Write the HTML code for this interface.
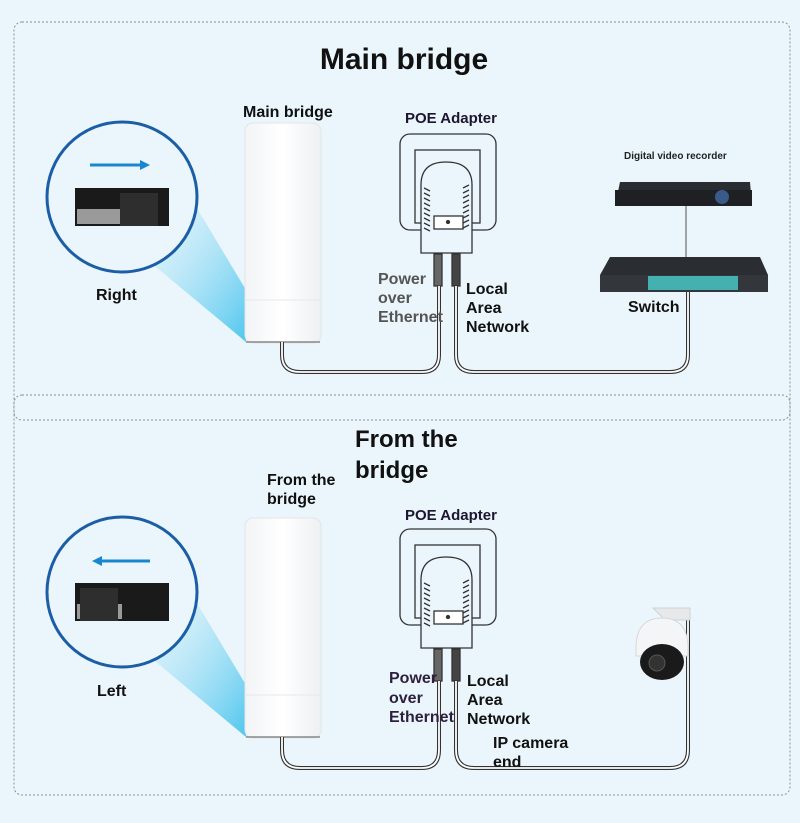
<!DOCTYPE html>
<html><head><meta charset="utf-8"><style>
html,body{margin:0;padding:0;background:#eaf6fc;}
svg{display:block;font-family:"Liberation Sans","DejaVu Sans",sans-serif;font-weight:bold;}
</style></head><body>
<svg width="800" height="823" viewBox="0 0 800 823" xmlns="http://www.w3.org/2000/svg">
<defs>
<linearGradient id="cone" x1="0" y1="0" x2="1" y2="1">
<stop offset="0" stop-color="#d3effa" stop-opacity="0.3"/>
<stop offset="1" stop-color="#4fc6ee"/>
</linearGradient>
<linearGradient id="br" x1="0" x2="1">
<stop offset="0" stop-color="#f2f4f6"/><stop offset="0.5" stop-color="#ffffff"/><stop offset="1" stop-color="#eef0f2"/>
</linearGradient>
<g id="zoom">
<polygon points="150,262 195,205 246,290 246,342" fill="url(#cone)"/>
<circle cx="122" cy="197" r="75" fill="#eaf6fc" stroke="#1b5ea6" stroke-width="3"/>
<rect x="75" y="188" width="94" height="38" fill="#1a1a1a"/>
<rect x="77" y="209" width="45" height="15" fill="#9a9a9a"/>
</g>
<g id="bridge">
<rect x="245" y="123" width="76" height="220" rx="8" fill="url(#br)" stroke="#e3e6e9"/>
<line x1="246" y1="300" x2="320" y2="300" stroke="#e6e8ea"/>
<line x1="246" y1="342" x2="320" y2="342" stroke="#888" stroke-width="1.5"/>
</g>
<g id="poe" fill="none" stroke="#333" stroke-width="1.3">
<rect x="400" y="134" width="96" height="96" rx="10"/>
<rect x="415" y="150" width="65" height="73"/>
<path d="M421,253 V185 Q421,162 446,162 Q472,162 472,185 V253 Z" fill="#eaf6fc"/>
<path d="M424,188 l6,3 M424,193 l6,3 M424,198 l6,3 M424,203 l6,3 M424,208 l6,3 M424,213 l6,3 M424,218 l6,3 M424,223 l6,3 M424,228 l6,3 M463,188 l6,-3 M463,193 l6,-3 M463,198 l6,-3 M463,203 l6,-3 M463,208 l6,-3 M463,213 l6,-3 M463,218 l6,-3 M463,223 l6,-3 M463,228 l6,-3"/>
<rect x="434" y="216" width="29" height="13" fill="#fff"/>
<circle cx="448" cy="222" r="1.5" fill="#333"/>
<rect x="434" y="254" width="8" height="32" fill="#666"/>
<rect x="452" y="254" width="8" height="32" fill="#444"/>
</g>
</defs>

<rect x="14" y="22" width="776" height="398" rx="8" fill="none" stroke="#8a8f95" stroke-dasharray="2,2"/>
<rect x="14" y="395" width="776" height="400" rx="8" fill="none" stroke="#8a8f95" stroke-dasharray="2,2"/>

<!-- TOP -->
<text x="404" y="69" font-size="30" text-anchor="middle" fill="#111">Main bridge</text>
<text x="243" y="117" font-size="16" fill="#111">Main bridge</text>
<use href="#zoom"/>
<line x1="90" y1="165" x2="142" y2="165" stroke="#1a86d0" stroke-width="3"/>
<polygon points="140,160 150,165 140,170" fill="#1a86d0"/>
<rect x="120" y="193" width="38" height="33" fill="#2e2e2e"/>
<text x="96" y="300" font-size="16" fill="#111">Right</text>
<use href="#bridge"/>
<text x="405" y="123" font-size="15" fill="#1e1530">POE Adapter</text>
<use href="#poe"/>
<g fill="none">
<path d="M282,342 V355 Q282,372 300,372 H422 Q439,372 439,355 V286" stroke="#333" stroke-width="4"/>
<path d="M282,342 V355 Q282,372 300,372 H422 Q439,372 439,355 V286" stroke="#fff" stroke-width="1.8"/>
<path d="M456,286 V355 Q456,372 474,372 H670 Q688,372 688,355 V292" stroke="#333" stroke-width="4"/>
<path d="M456,286 V355 Q456,372 474,372 H670 Q688,372 688,355 V292" stroke="#fff" stroke-width="1.8"/>
</g>
<g font-size="16" fill="#555"><text x="378" y="284">Power</text><text x="378" y="303">over</text><text x="378" y="322">Ethernet</text></g>
<g font-size="16" fill="#111"><text x="466" y="294">Local</text><text x="466" y="313">Area</text><text x="466" y="332">Network</text></g>
<text x="624" y="159" font-size="10" fill="#222">Digital video recorder</text>
<polygon points="620,182 750,182 752,206 615,206" fill="#2a2d31"/>
<rect x="615" y="190" width="137" height="16" fill="#1e2023"/>
<circle cx="722" cy="197" r="7" fill="#3a5a8a"/>
<line x1="686" y1="206" x2="686" y2="258" stroke="#555"/>
<polygon points="610,257 760,257 768,275 600,275" fill="#2a2d31"/>
<rect x="600" y="275" width="168" height="17" fill="#33363a"/>
<rect x="648" y="276" width="90" height="14" fill="#45b0b0"/>
<text x="628" y="312" font-size="16" fill="#111">Switch</text>

<!-- BOTTOM -->
<text x="355" y="447" font-size="24" fill="#111">From the</text>
<text x="355" y="478" font-size="24" fill="#111">bridge</text>
<text x="267" y="485" font-size="16" fill="#111">From the</text>
<text x="267" y="504" font-size="16" fill="#111">bridge</text>
<g transform="translate(0,395)">
<use href="#zoom"/>
<use href="#bridge"/>
<use href="#poe"/>
</g>
<line x1="100" y1="561" x2="150" y2="561" stroke="#1a86d0" stroke-width="3"/>
<polygon points="102,556 92,561 102,566" fill="#1a86d0"/>
<rect x="80" y="588" width="38" height="33" fill="#2e2e2e"/>
<text x="97" y="696" font-size="16" fill="#111">Left</text>
<text x="405" y="520" font-size="15" fill="#1e1530">POE Adapter</text>
<g fill="none">
<path d="M282,737 V750 Q282,768 300,768 H422 Q439,768 439,750 V681" stroke="#333" stroke-width="4"/>
<path d="M282,737 V750 Q282,768 300,768 H422 Q439,768 439,750 V681" stroke="#fff" stroke-width="1.8"/>
<path d="M456,681 V750 Q456,768 474,768 H670 Q688,768 688,750 V620" stroke="#333" stroke-width="4"/>
<path d="M456,681 V750 Q456,768 474,768 H670 Q688,768 688,750 V620" stroke="#fff" stroke-width="1.8"/>
</g>
<g font-size="16" fill="#2e1f3e"><text x="389" y="683">Power</text><text x="389" y="703">over</text><text x="389" y="722">Ethernet</text></g>
<g font-size="16" fill="#111"><text x="467" y="686">Local</text><text x="467" y="705">Area</text><text x="467" y="724">Network</text></g>
<g font-size="16" fill="#111"><text x="493" y="748">IP camera</text><text x="493" y="767">end</text></g>
<!-- camera -->
<path d="M653,608 H690 V620 H665 Z" fill="#e6e8ea" stroke="#cfd3d6"/>
<path d="M636,648 Q636,618 662,618 Q688,618 688,648 V656 H636 Z" fill="#f4f5f6" stroke="#d6d9dc"/>
<ellipse cx="662" cy="662" rx="22" ry="18" fill="#1a1a1a"/>
<circle cx="657" cy="663" r="8" fill="#333" stroke="#555"/>
</svg>
</body></html>
